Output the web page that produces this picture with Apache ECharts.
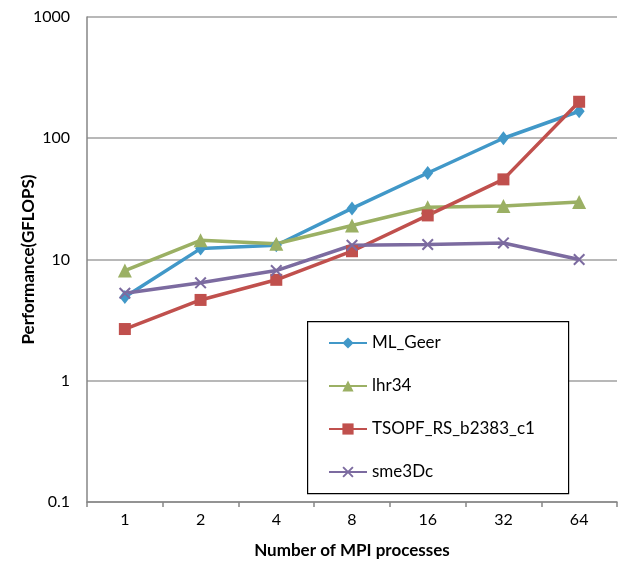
<!DOCTYPE html>
<html><head><meta charset="utf-8">
<script src="https://cdn.jsdelivr.net/npm/echarts@6/dist/echarts.min.js"></script>
<style>html,body{margin:0;padding:0;background:#fff}#c{width:622px;height:562px}</style>
</head><body><div id="c"></div>
<script>
const categories = ['1','2','4','8','16','32','64'];
const mlGeer = [4.9, 12.3, 13.1, 26.4, 51.7, 100, 167];
const lhr34 = [8.1, 14.4, 13.5, 19.1, 27, 27.6, 29.8];
const tsopf = [2.67, 4.64, 6.8, 11.7, 23.1, 45.8, 200];
const sme3Dc = [5.27, 6.42, 8.1, 13.1, 13.3, 13.7, 10];
const yTicks = [0.1, 1, 10, 100, 1000];

const FONT = 'Lato, "Open Sans", sans-serif';
const xPath = 'path://M0,1.2 L1.2,0 L10,8.8 L8.8,10 Z M8.8,0 L10,1.2 L1.2,10 L0,8.8 Z';

function mk(name, data, color, symbol, size) {
  return {
    name, type: 'line', data,
    symbol, symbolSize: size,
    lineStyle: { width: 3.5, color },
    itemStyle: { color },
    emphasis: { disabled: true },
    z: 3
  };
}

const chart = echarts.init(document.getElementById('c'));
chart.setOption({
  animation: false,
  grid: { left: 87, right: 5, top: 17, bottom: 60, containLabel: false, outerBoundsMode: 'none' },
  xAxis: {
    type: 'category', data: categories, boundaryGap: true,
    name: 'Number of MPI processes', nameLocation: 'middle', nameGap: 40, nameMoveOverlap: false,
    nameTextStyle: { fontFamily: FONT, fontWeight: 'bold', fontSize: 17, color: '#000' },
    axisLine: { lineStyle: { color: '#868686', width: 1.5 } },
    axisTick: { show: true, alignWithLabel: false, length: 5, lineStyle: { color: '#868686', width: 1.5 } },
    axisLabel: { fontFamily: FONT, fontSize: 16, color: '#000', margin: 10 },
    splitLine: { show: false }
  },
  yAxis: {
    type: 'log', logBase: 10, min: 0.1, max: 1000,
    name: 'Performance(GFLOPS)', nameLocation: 'middle', nameGap: 50, nameMoveOverlap: false,
    nameTextStyle: { fontFamily: FONT, fontWeight: 'bold', fontSize: 17, color: '#000' },
    axisLine: { show: true, lineStyle: { color: '#868686', width: 1.5 } },
    axisTick: { show: false },
    axisLabel: { fontFamily: FONT, fontSize: 16, color: '#000', margin: 17,
      formatter: v => { const t = yTicks.find(x => Math.abs(x - v) / x < 1e-6); return t === undefined ? '' : String(t); } },
    splitLine: { show: true, lineStyle: { color: '#a0a0a0', width: 1.5 } }
  },
  legend: {
    orient: 'vertical', left: 323, top: 328,
    itemWidth: 38, itemHeight: 14, itemGap: 23,
    textStyle: { fontFamily: FONT, fontSize: 17, color: '#000', lineHeight: 20 },
    data: ['ML_Geer', 'lhr34', 'TSOPF_RS_b2383_c1', 'sme3Dc']
  },
  graphic: [{
    type: 'rect', left: 307, top: 321, z: 1,
    shape: { width: 261, height: 172 },
    style: { fill: '#fff', stroke: '#000', lineWidth: 1.2 }
  }],
  series: [
    mk('ML_Geer', mlGeer, '#4198C8', 'diamond', [11, 14]),
    mk('lhr34', lhr34, '#9BB064', 'triangle', 14),
    mk('TSOPF_RS_b2383_c1', tsopf, '#C0504D', 'rect', 12),
    mk('sme3Dc', sme3Dc, '#7C6BA0', xPath, 12)
  ]
});
</script></body></html>
